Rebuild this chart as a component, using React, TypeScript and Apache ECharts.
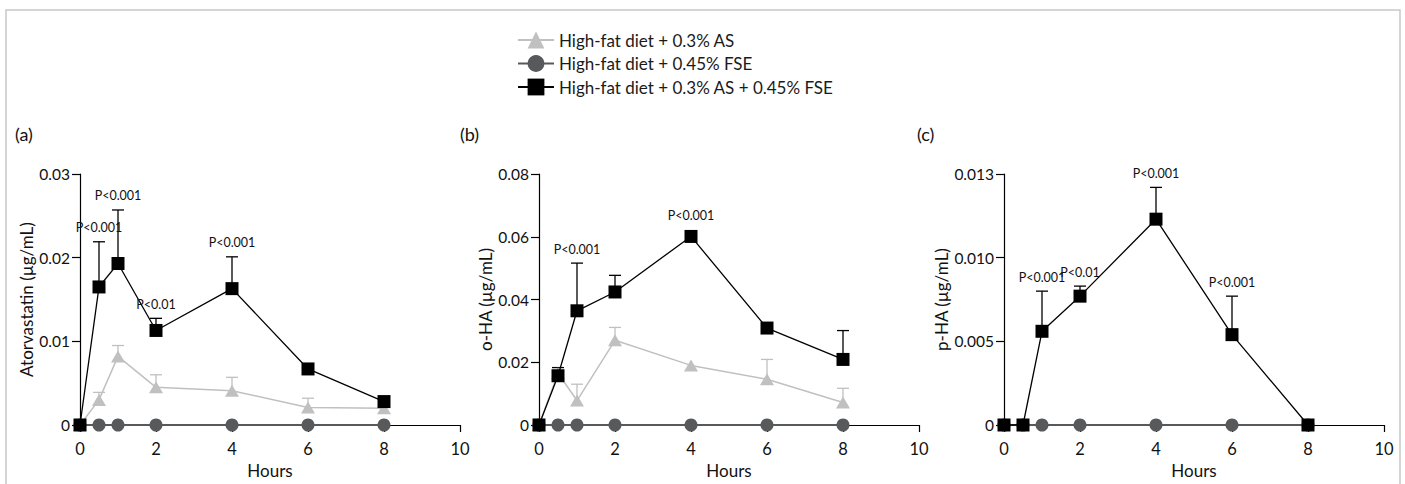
import React, { useEffect, useRef } from 'react';
import * as echarts from 'echarts';

// ---------- data ----------
const hours = [0, 0.5, 1, 2, 4, 6, 8];
const xTicks = [0, 2, 4, 6, 8, 10];

const nameAS = 'High-fat diet + 0.3% AS';
const nameFSE = 'High-fat diet + 0.45% FSE';
const nameCombo = 'High-fat diet + 0.3% AS + 0.45% FSE';

// (a) Atorvastatin
const aAS = [0, 0.003, 0.0082, 0.0045, 0.0041, 0.0021, 0.002];
const aASErr = [0, 0.0009, 0.0013, 0.0015, 0.0016, 0.0011, 0];
const aFSE = [0, 0, 0, 0, 0, 0, 0];
const aCombo = [0, 0.0165, 0.0193, 0.0113, 0.0163, 0.0067, 0.0028];
const aComboErr = [0, 0.0054, 0.0064, 0.00145, 0.0038, 0, 0];
const aAnnX = [0.5, 1, 2, 4];
const aAnnText = ['P<0.001', 'P<0.001', 'P<0.01', 'P<0.001'];
const aYTicks = ['0', '0.01', '0.02', '0.03'];

// (b) o-HA
const bAS = [0, 0.0165, 0.0078, 0.027, 0.019, 0.0146, 0.0072];
const bASErr = [0, 0, 0.0052, 0.0041, 0, 0.0063, 0.0045];
const bFSE = [0, 0, 0, 0, 0, 0, 0];
const bCombo = [0, 0.0157, 0.0364, 0.0424, 0.0601, 0.0309, 0.0209];
const bComboErr = [0, 0.0026, 0.0152, 0.0053, 0, 0, 0.0092];
const bAnnX = [1, 4];
const bAnnText = ['P<0.001', 'P<0.001'];
const bYTicks = ['0', '0.02', '0.04', '0.06', '0.08'];

// (c) p-HA
const cFSE = [0, 0, 0, 0, 0, 0, 0];
const cCombo = [0, 0, 0.0056, 0.0077, 0.0123, 0.0054, 0];
const cComboErr = [0, 0, 0.0024, 0.0006, 0.0019, 0.0023, 0];
const cAnnX = [1, 2, 4, 6];
const cAnnText = ['P<0.001', 'P<0.01', 'P<0.001', 'P<0.001'];
const cYTicks = ['0', '0.005', '0.010', '0.013'];

// ---------- styles ----------
const FONT = 'Lato, "Open Sans", sans-serif';
const COL_AS = '#c0c0c0';
const COL_FSE = '#58595b';
const COL_COMBO = '#000000';

interface Panel {
  label: string;
  yName: string;
  yMax: number;
  yInterval: number;
  yTicks: string[];
  as?: number[];
  asErr?: number[];
  fse: number[];
  combo: number[];
  comboErr: number[];
  annX: number[];
  annText: string[];
  left: number;
  labelX: number;
}

const panels: Panel[] = [
  { label: '(a)', yName: 'Atorvastatin (µg/mL)', yMax: 0.03, yInterval: 0.01, yTicks: aYTicks,
    as: aAS, asErr: aASErr, fse: aFSE, combo: aCombo, comboErr: aComboErr,
    annX: aAnnX, annText: aAnnText, left: 80, labelX: 15 },
  { label: '(b)', yName: 'o-HA (µg/mL)', yMax: 0.08, yInterval: 0.02, yTicks: bYTicks,
    as: bAS, asErr: bASErr, fse: bFSE, combo: bCombo, comboErr: bComboErr,
    annX: bAnnX, annText: bAnnText, left: 539, labelX: 460 },
  { label: '(c)', yName: 'p-HA (µg/mL)', yMax: 0.015, yInterval: 0.005, yTicks: cYTicks,
    fse: cFSE, combo: cCombo, comboErr: cComboErr,
    annX: cAnnX, annText: cAnnText, left: 1004, labelX: 917 },
];

function errSeries(idx: number, mean: number[], err: number[], color: string) {
  const data: number[][] = [];
  hours.forEach((h, i) => {
    if (err[i] > 0) data.push([h, mean[i], err[i]]);
  });
  return {
    type: 'custom',
    xAxisIndex: idx,
    yAxisIndex: idx,
    z: 2,
    silent: true,
    clip: false,
    data,
    encode: { x: 0, y: 1 },
    renderItem: (params: any, api: any) => {
      const x = api.value(0);
      const m = api.value(1);
      const e = api.value(2);
      const p0 = api.coord([x, m]);
      const p1 = api.coord([x, m + e]);
      const hw = 6;
      return {
        type: 'group',
        children: [
          { type: 'line', shape: { x1: p0[0], y1: p0[1], x2: p1[0], y2: p1[1] }, style: { stroke: color, lineWidth: 1.3 } },
          { type: 'line', shape: { x1: p1[0] - hw, y1: p1[1], x2: p1[0] + hw, y2: p1[1] }, style: { stroke: color, lineWidth: 1.3 } },
        ],
      };
    },
  };
}

function annSeries(idx: number, p: Panel) {
  const data = p.annX.map((x) => {
    const i = hours.indexOf(x);
    return [x, p.combo[i], p.comboErr[i]];
  });
  return {
    type: 'custom',
    xAxisIndex: idx,
    yAxisIndex: idx,
    z: 6,
    silent: true,
    clip: false,
    data,
    encode: { x: 0, y: 1 },
    renderItem: (params: any, api: any) => {
      const x = api.value(0);
      const m = api.value(1);
      const e = api.value(2);
      const pm = api.coord([x, m]);
      const pe = api.coord([x, m + e]);
      const top = Math.min(pe[1], pm[1] - 7);
      return {
        type: 'text',
        x: pm[0],
        y: top - 14,
        style: {
          text: p.annText[params.dataIndex],
          fill: '#111',
          font: `12.5px ${FONT}`,
          align: 'center',
          verticalAlign: 'middle',
        },
      };
    },
  };
}

function lineSeries(idx: number, name: string, values: number[], color: string, symbol: string, size: any, width: number, z: number) {
  return {
    type: 'line',
    name,
    xAxisIndex: idx,
    yAxisIndex: idx,
    data: hours.map((h, i) => [h, values[i]]),
    symbol,
    symbolSize: size,
    showSymbol: true,
    z,
    clip: false,
    color,
    itemStyle: { color, opacity: 1 },
    lineStyle: { color, width },
    emphasis: { disabled: true },
  };
}

export default function App() {
  const ref = useRef<HTMLDivElement>(null);

  useEffect(() => {
    if (!ref.current) return;
    const chart = echarts.init(ref.current, undefined, { renderer: 'svg' });

    const grids: any[] = [];
    const xAxes: any[] = [];
    const yAxes: any[] = [];
    const series: any[] = [];
    const graphics: any[] = [];

    panels.forEach((p, idx) => {
      grids.push({ left: p.left, top: 174, width: 380, height: 254, containLabel: false });
      xAxes.push({
        type: 'value',
        gridIndex: idx,
        min: 0,
        max: 10,
        interval: 2,
        name: 'Hours',
        nameLocation: 'middle',
        nameGap: 37,
        nameTextStyle: { fontFamily: FONT, fontSize: 17, color: '#111' },
        axisLine: { show: true, onZero: false, lineStyle: { color: '#000', width: 1.2 } },
        axisTick: { show: true, inside: false, length: 7, lineStyle: { color: '#000', width: 1.2 } },
        axisLabel: { margin: 15, fontFamily: FONT, fontSize: 16.5, color: '#111',
          formatter: (v: number) => String(xTicks[xTicks.indexOf(v)] ?? v) },
        splitLine: { show: false },
      });
      yAxes.push({
        type: 'value',
        gridIndex: idx,
        min: 0,
        max: p.yMax,
        interval: p.yInterval,
        name: p.yName,
        nameLocation: 'middle',
        nameGap: 44,
        nameRotate: 90,
        nameTextStyle: { fontFamily: FONT, fontSize: 17, color: '#111' },
        axisLine: { show: true, onZero: false, lineStyle: { color: '#000', width: 1.2 } },
        axisTick: { show: true, inside: false, length: 8, lineStyle: { color: '#000', width: 1.2 } },
        axisLabel: { margin: 10, fontFamily: FONT, fontSize: 15.5, color: '#111',
          formatter: (v: number, i: number) => p.yTicks[i] },
        splitLine: { show: false },
      });

      if (p.as && p.asErr) {
        series.push(errSeries(idx, p.as, p.asErr, COL_AS));
        series.push(lineSeries(idx, nameAS, p.as, COL_AS, 'triangle', [14, 12], 1.5, 3));
      }
      series.push(lineSeries(idx, nameFSE, p.fse, COL_FSE, 'circle', 13, 2, 4));
      series.push(errSeries(idx, p.combo, p.comboErr, COL_COMBO));
      series.push(lineSeries(idx, nameCombo, p.combo, COL_COMBO, 'rect', 13, 1.3, 5));
      series.push(annSeries(idx, p));

      graphics.push({
        type: 'text',
        left: p.labelX,
        top: 125,
        style: { text: p.label, fill: '#111', font: `18px ${FONT}` },
      });
    });

    graphics.push({
      type: 'polyline',
      shape: { points: [[6, 500], [6, 10], [1400, 10], [1400, 500]] },
      style: { stroke: '#c8c8c8', lineWidth: 1.5, fill: 'none' },
      silent: true,
    });

    chart.setOption({
      animation: false,
      backgroundColor: '#ffffff',
      legend: {
        data: [nameAS, nameFSE, nameCombo],
        orient: 'vertical',
        left: 517,
        top: 31.5,
        padding: 0,
        itemWidth: 36,
        itemHeight: 21,
        itemGap: 6.5,
        selectedMode: false,
        textStyle: { fontFamily: FONT, fontSize: 17, color: '#1a1a1a' },
      },
      grid: grids,
      xAxis: xAxes,
      yAxis: yAxes,
      series,
      graphic: graphics,
    });

    return () => chart.dispose();
  }, []);

  return (
    <div
      ref={ref}
      style={{ position: 'fixed', left: 0, top: 0, width: 1405, height: 484, background: '#fff' }}
    />
  );
}
